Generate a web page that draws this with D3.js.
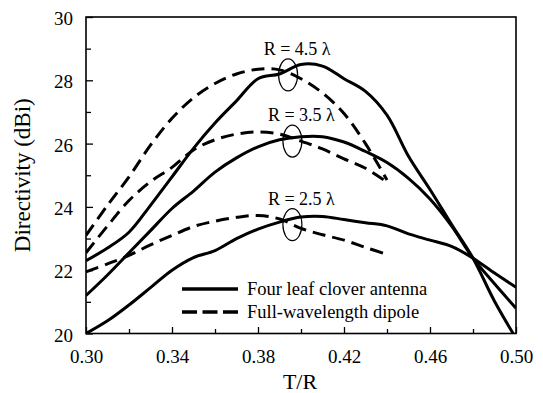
<!DOCTYPE html>
<html>
<head>
<meta charset="utf-8">
<script src="https://cdn.jsdelivr.net/npm/d3@7"></script>
<style>
  html, body { margin: 0; padding: 0; background: #fff; }
  svg { display: block; font-family: 'Liberation Serif', 'DejaVu Serif', serif; }
</style>
</head>
<body>
<svg id="chart" width="543" height="393"></svg>
<script>
// T/R sample points
const tValues = [0.30, 0.31, 0.32, 0.33, 0.34, 0.35, 0.36, 0.37, 0.38, 0.39, 0.40,
  0.41, 0.42, 0.43, 0.44, 0.45, 0.46, 0.47, 0.48, 0.49, 0.50]

// Four leaf clover antenna (solid)
const clover25 = [20.0, 20.4, 20.9, 21.45, 22.0, 22.4, 22.62, 23.0, 23.3, 23.52, 23.68,
  23.7, 23.6, 23.5, 23.4, 23.15, 22.95, 22.75, 22.38, 21.91, 21.46]
const clover35 = [21.2, 21.85, 22.55, 23.25, 23.95, 24.5, 25.1, 25.55, 25.9, 26.12, 26.22,
  26.22, 26.05, 25.75, 25.4, 24.9, 24.25, 23.4, 22.38, 21.57, 20.8]
const clover45 = [22.3, 22.7, 23.2, 24.05, 24.95, 25.85, 26.65, 27.35, 28.05, 28.2, 28.5,
  28.45, 28.05, 27.65, 26.9, 25.6, 24.55, 23.45, 22.38, 21.02, 19.85]

// Full-wavelength dipole (dashed), stops at T/R = 0.44
const dipole25 = [21.95, 22.2, 22.47, 22.8, 23.1, 23.38, 23.55, 23.67, 23.73, 23.62, 23.32,
  23.12, 22.95, 22.72, 22.5]
const dipole35 = [22.55, 23.4, 24.2, 24.8, 25.25, 25.8, 26.12, 26.3, 26.37, 26.3, 26.08,
  25.83, 25.52, 25.22, 24.78]
const dipole45 = [23.1, 24.05, 24.95, 25.95, 26.8, 27.45, 27.9, 28.2, 28.35, 28.33, 28.05,
  27.6, 26.95, 26.0, 24.85]

// ring annotations
const ringLabels = ['R = 4.5 λ', 'R = 3.5 λ', 'R = 2.5 λ']
const ringT = [0.394, 0.396, 0.396]
const ringD = [28.17, 26.08, 23.44]

const xTicks = [0.30, 0.32, 0.34, 0.36, 0.38, 0.40, 0.42, 0.44, 0.46, 0.48, 0.50]
const yTicks = [20, 21, 22, 23, 24, 25, 26, 27, 28, 29, 30]
const legendLabels = ['Four leaf clover antenna', 'Full-wavelength dipole']

const margin = {top: 17, right: 27, bottom: 59.5, left: 86}
const width = 543
const height = 393

const svg = d3.select('#chart')
svg.append('rect').attr('width', width).attr('height', height).attr('fill', '#fff')

const x = d3.scaleLinear().domain([0.30, 0.50]).range([margin.left, width - margin.right])
const y = d3.scaleLinear().domain([20, 30]).range([height - margin.bottom, margin.top])

svg.append('defs').append('clipPath').attr('id', 'plotClip')
  .append('rect')
  .attr('x', x(0.30)).attr('y', y(30))
  .attr('width', x(0.50) - x(0.30)).attr('height', y(20) - y(30))

const isMajorX = d => Math.round(d * 100) % 4 === 2

// axes, ticks inside
const xAxis = svg.append('g')
  .attr('transform', `translate(0,${y(20)})`)
  .call(d3.axisBottom(x).tickValues(xTicks)
    .tickSize(0)
    .tickFormat(d => isMajorX(d) ? d3.format('.2f')(d) : ''))
  .attr('font-family', 'Liberation Serif')
xAxis.select('.domain').remove()
xAxis.selectAll('.tick line').attr('y2', d => isMajorX(d) ? -6.5 : -4.5)
  .attr('stroke', '#000').attr('stroke-width', 1.3)
xAxis.selectAll('.tick text').attr('y', 29).attr('dy', 0)
  .style('font-size', '19px').style('font-family', 'Liberation Serif').attr('fill', '#000')

const yAxis = svg.append('g')
  .attr('transform', `translate(${x(0.30)},0)`)
  .call(d3.axisLeft(y).tickValues(yTicks)
    .tickSize(0)
    .tickFormat(d => d % 2 === 0 ? d : ''))
  .attr('font-family', 'Liberation Serif')
yAxis.select('.domain').remove()
yAxis.selectAll('.tick line').attr('x2', d => d % 2 === 0 ? 7 : 5)
  .attr('stroke', '#000').attr('stroke-width', 1.3)
yAxis.selectAll('.tick text').attr('x', -13).attr('dy', '0.4em')
  .style('font-size', '19px').style('font-family', 'Liberation Serif').attr('fill', '#000')

// frame
svg.append('rect')
  .attr('x', x(0.30)).attr('y', y(30))
  .attr('width', x(0.50) - x(0.30)).attr('height', y(20) - y(30))
  .attr('fill', 'none').attr('stroke', '#000').attr('stroke-width', 1.6)

// axis titles
svg.append('text')
  .attr('x', (x(0.30) + x(0.50)) / 2 - 1).attr('y', 389)
  .attr('text-anchor', 'middle')
  .style('font-size', '22px')
  .text('T/R')

svg.append('text')
  .attr('transform', `translate(30,${(y(20) + y(30)) / 2}) rotate(-90)`)
  .attr('text-anchor', 'middle')
  .style('font-size', '23px')
  .text('Directivity (dBi)')

// curves
const line = d3.line()
  .curve(d3.curveCatmullRom.alpha(0.5))
  .x(d => x(d[0]))
  .y(d => y(d[1]))

const plot = svg.append('g').attr('clip-path', 'url(#plotClip)')

const solidSeries = [clover25, clover35, clover45]
const dashedSeries = [dipole25, dipole35, dipole45]

solidSeries.forEach(vals => {
  plot.append('path')
    .datum(vals.map((v, i) => [tValues[i], v]))
    .attr('d', line)
    .attr('fill', 'none')
    .attr('stroke', '#000')
    .attr('stroke-width', 3)
})

dashedSeries.forEach(vals => {
  plot.append('path')
    .datum(vals.map((v, i) => [tValues[i], v]))
    .attr('d', line)
    .attr('fill', 'none')
    .attr('stroke', '#000')
    .attr('stroke-width', 3)
    .attr('stroke-dasharray', '13,7')
})

// rings + labels
ringLabels.forEach((lab, i) => {
  const cx = x(ringT[i])
  const cy = y(ringD[i])
  svg.append('ellipse')
    .attr('cx', cx).attr('cy', cy)
    .attr('rx', 9.5).attr('ry', 16)
    .attr('fill', 'none').attr('stroke', '#000').attr('stroke-width', 1.2)
  svg.append('text')
    .attr('x', cx + 9).attr('y', cy - 20)
    .attr('text-anchor', 'middle')
    .style('font-size', '18px')
    .text(lab)
})

// legend
const legend = svg.append('g')
legendLabels.forEach((lab, i) => {
  const ly = 289 + i * 23
  legend.append('line')
    .attr('x1', 182).attr('x2', 238)
    .attr('y1', ly).attr('y2', ly)
    .attr('stroke', '#000').attr('stroke-width', 3.5)
    .attr('stroke-dasharray', i === 1 ? '15,5.5' : null)
  legend.append('text')
    .attr('x', 247).attr('y', ly + 6)
    .style('font-size', '18.5px')
    .text(lab)
})
</script>
</body>
</html>
